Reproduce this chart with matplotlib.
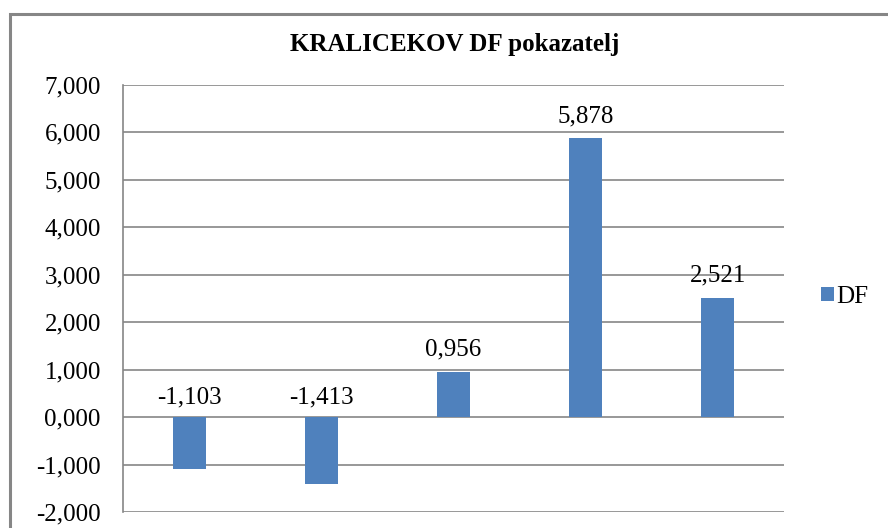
#!/usr/bin/env python3
"""
KRALICEKOV DF pokazatelj - bar chart recreation
"""

import matplotlib.pyplot as plt
from matplotlib.patches import Rectangle
from matplotlib.ticker import FuncFormatter

# Data
categories = ['1', '2', '3', '4', '5']
df_values = [-1.103, -1.413, 0.956, 5.878, 2.521]
y_ticks = [-2, -1, 0, 1, 2, 3, 4, 5, 6, 7]

BAR_COLOR = '#4F81BD'
GRID_COLOR = '#868686'

plt.rcParams['font.family'] = ['Liberation Serif', 'DejaVu Serif']


def comma_fmt(v, pos=None):
    """Format number with three decimals and a decimal comma."""
    return f"{v:.3f}".replace('.', ',')


def main():
    fig = plt.figure(figsize=(8.88, 5.28), dpi=100)

    # Outer chart border (cut off at right and bottom like the reference)
    border = Rectangle((10 / 888, -0.05), 1.0, (528 - 14) / 528 + 0.05,
                       transform=fig.transFigure, fill=False,
                       edgecolor=GRID_COLOR, linewidth=2.2, clip_on=False)
    fig.patches.append(border)

    ax = fig.add_axes([123 / 888, 16 / 528, (784 - 123) / 888, (512 - 85) / 528])

    x = range(len(categories))
    bars = ax.bar(x, df_values, width=0.25, color=BAR_COLOR, label='DF', zorder=3)

    # Value labels, placed above the bar (or above zero for negatives)
    for rect, v in zip(bars, df_values):
        offset = 8 if v > 0 else 6
        ax.annotate(comma_fmt(v),
                    xy=(rect.get_x() + rect.get_width() / 2, max(v, 0)),
                    xytext=(0, offset), textcoords='offset points',
                    ha='center', va='bottom', fontsize=18)

    ax.set_xlim(-0.5, len(categories) - 0.5)
    ax.set_ylim(-2, 7)
    ax.set_yticks(y_ticks)
    ax.yaxis.set_major_formatter(FuncFormatter(comma_fmt))
    ax.tick_params(axis='y', length=0, pad=16, labelsize=18)
    ax.set_xticks([])

    ax.grid(True, axis='y', color=GRID_COLOR, linewidth=1.2, zorder=0)
    for side in ['top', 'right', 'bottom']:
        ax.spines[side].set_visible(False)
    ax.spines['left'].set_color(GRID_COLOR)
    ax.spines['left'].set_linewidth(1.2)

    fig.text(455 / 888, 1 - 45 / 528, 'KRALICEKOV DF pokazatelj',
             ha='center', va='center', fontsize=18, fontweight='bold')

    fig.legend(loc='center left', bbox_to_anchor=(821 / 888, 1 - 297 / 528),
               frameon=False, fontsize=18, handlelength=0.5, handleheight=0.5,
               handletextpad=0.1, borderpad=0, borderaxespad=0)

    plt.savefig('out.png', dpi=100)


if __name__ == '__main__':
    main()
